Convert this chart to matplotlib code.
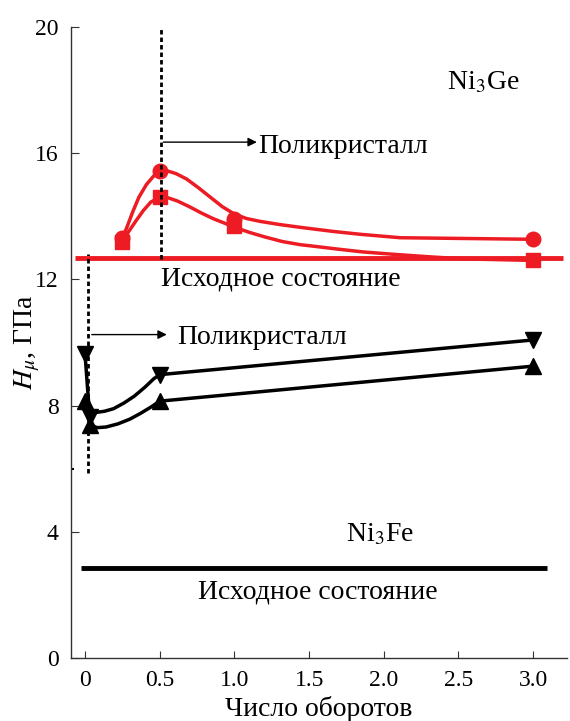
import matplotlib.pyplot as plt

plt.rcParams['font.family'] = ['Liberation Serif', 'DejaVu Serif']
plt.rcParams['mathtext.fontset'] = 'stix'

RED = '#ed1c24'

# Ni3Ge: measured points
ge_x = [0.25, 0.5, 1.0, 3.0]
ge_circle_y = [13.3, 15.45, 13.9, 13.27]
ge_square_y = [13.2, 14.6, 13.7, 12.6]

# Ni3Ge: fitted curves
ge_up_x = [0.25, 0.28, 0.32, 0.36, 0.41, 0.46, 0.5, 0.55, 0.61, 0.68, 0.76, 0.84, 0.92, 1.0,
           1.08, 1.17, 1.3, 1.44, 1.66, 1.84, 2.11, 3.0]
ge_up_y = [13.3, 13.65, 14.15, 14.6, 15.0, 15.28, 15.42, 15.44, 15.35, 15.18, 14.9, 14.6, 14.3,
           14.07, 13.93, 13.84, 13.74, 13.65, 13.52, 13.43, 13.32, 13.27]
ge_lo_x = [0.25, 0.29, 0.34, 0.39, 0.44, 0.5, 0.56, 0.62, 0.7, 0.78, 0.86, 0.94, 1.02, 1.1,
           1.2, 1.32, 1.44, 1.55, 1.69, 1.86, 2.05, 2.29, 2.53, 3.0]
ge_lo_y = [13.2, 13.5, 13.85, 14.18, 14.45, 14.6, 14.58, 14.48, 14.3, 14.1, 13.92, 13.77, 13.62,
           13.49, 13.35, 13.2, 13.1, 13.04, 12.96, 12.87, 12.8, 12.72, 12.65, 12.6]
ge_initial = 12.68

# Ni3Fe: measured points
fe_x = [0.0, 0.03, 0.5, 3.0]
fe_down_y = [9.62, 7.65, 8.98, 10.08]
fe_up_y = [8.14, 7.4, 8.14, 9.25]

# Ni3Fe: fitted curves
fe_dn_cx = [0.0, 0.03, 0.07, 0.13, 0.19, 0.26, 0.33, 0.4, 0.46, 0.5, 3.0]
fe_dn_cy = [9.62, 7.7, 7.78, 7.82, 7.9, 8.08, 8.3, 8.58, 8.85, 8.98, 10.08]
fe_up_cx = [0.0, 0.03, 0.08, 0.14, 0.22, 0.3, 0.37, 0.44, 0.5, 3.0]
fe_up_cy = [8.14, 7.4, 7.3, 7.32, 7.42, 7.57, 7.75, 7.95, 8.14, 9.25]
fe_initial = 2.86

fig = plt.figure(figsize=(5.7, 7.21), dpi=100)
ax = fig.add_axes([0.1246, 0.0874, 0.87, 0.8752])

# initial-state levels
ax.plot([-0.07, 3.2], [ge_initial, ge_initial], color=RED, lw=3.5, solid_capstyle='butt')
ax.plot([-0.03, 3.09], [fe_initial, fe_initial], color='black', lw=3.5, solid_capstyle='butt')

# Ni3Ge
ax.plot(ge_up_x, ge_up_y, color=RED, lw=2.5)
ax.plot(ge_lo_x, ge_lo_y, color=RED, lw=2.5)
ax.plot(ge_x, ge_circle_y, 'o', color=RED, ms=10.5)
ax.plot(ge_x, ge_square_y, 's', color=RED, ms=10.5)

# Ni3Fe
ax.plot(fe_dn_cx, fe_dn_cy, color='black', lw=2.5)
ax.plot(fe_up_cx, fe_up_cy, color='black', lw=2.5)
ax.plot(fe_x, fe_down_y, 'v', color='black', ms=11.5)
ax.plot(fe_x, fe_up_y, '^', color='black', ms=11.5)

# dotted guides
ax.plot([0.51, 0.51], [12.63, 20], color='black', lw=2, linestyle=(0, (1.6, 1.1)))
ax.plot([0.02, 0.02], [5.87, 12.8], color='black', lw=2, linestyle=(0, (1.6, 1.1)))

# arrows and labels
arr = dict(arrowstyle='-|>', lw=1, color='black', mutation_scale=13, shrinkA=0, shrinkB=0)
ax.annotate('', xy=(1.15, 16.35), xytext=(0.524, 16.35), arrowprops=arr)
ax.annotate('', xy=(0.547, 10.25), xytext=(0.045, 10.25), arrowprops=arr)

fs = 20
ax.text(1.16, 16.0, 'Поликристалл', fontsize=fs, va='baseline')
ax.text(0.614, 9.94, 'Поликристалл', fontsize=fs, va='baseline')
ax.text(0.51, 11.79, 'Исходное состояние', fontsize=fs, va='baseline')
ax.text(0.756, 1.9, 'Исходное состояние', fontsize=fs, va='baseline')
ax.text(2.42, 18.01, 'Ni$_3$Ge', fontsize=fs, va='baseline')
ax.text(1.75, 3.7, 'Ni$_3$Fe', fontsize=fs, va='baseline')

ax.set_xlim(-0.094, 3.226)
ax.set_ylim(0, 20)
ax.set_xticks([0, 0.5, 1.0, 1.5, 2.0, 2.5, 3.0])
ax.set_xticklabels(['0', '0.5', '1.0', '1.5', '2.0', '2.5', '3.0'])
ax.set_yticks([0, 4, 8, 12, 16, 20])
ax.set_yticks([6], minor=True)
ax.tick_params(direction='in', labelsize=17, color='#333333')
ax.tick_params(axis='y', length=6, pad=9)
ax.tick_params(axis='y', which='minor', direction='in', length=2, width=1.5, color='black')
ax.tick_params(axis='x', length=5, pad=9)

ax.spines['top'].set_visible(False)
ax.spines['right'].set_visible(False)
for s in ('left', 'bottom'):
    ax.spines[s].set_color('#333333')
    ax.spines[s].set_linewidth(1)

ax.set_ylabel(r'$H_{\mu}$, ГПа', fontsize=20)
ax.yaxis.set_label_coords(-0.058, 0.5)
ax.set_xlabel('Число оборотов', fontsize=20, labelpad=3)

plt.savefig('out.png', dpi=100)
